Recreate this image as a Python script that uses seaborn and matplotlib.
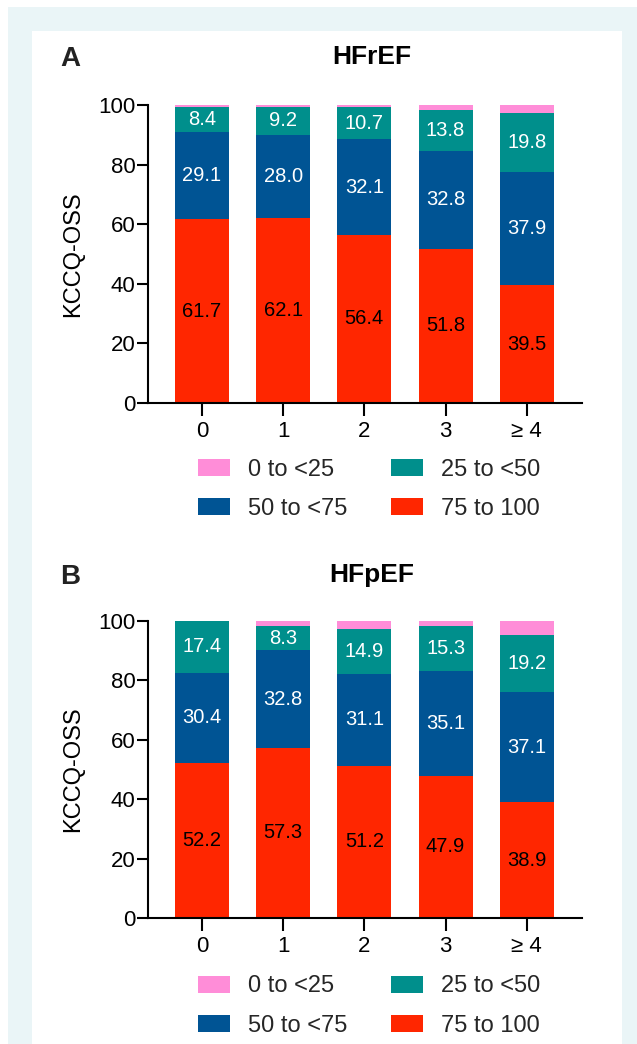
import numpy as np
import pandas as pd
import matplotlib
matplotlib.use("Agg")
import matplotlib.pyplot as plt
from matplotlib.patches import Rectangle, Patch
import seaborn as sns

categories = ["0", "1", "2", "3", "≥ 4"]
series_names = ["0 to <25", "25 to <50", "50 to <75", "75 to 100"]

# HFrEF
hfref_75_100 = [61.7, 62.1, 56.4, 51.8, 39.5]
hfref_50_75 = [29.1, 28.0, 32.1, 32.8, 37.9]
hfref_25_50 = [8.4, 9.2, 10.7, 13.8, 19.8]
hfref_0_25 = [0.8, 0.7, 0.8, 1.6, 2.8]

# HFpEF
hfpef_75_100 = [52.2, 57.3, 51.2, 47.9, 38.9]
hfpef_50_75 = [30.4, 32.8, 31.1, 35.1, 37.1]
hfpef_25_50 = [17.4, 8.3, 14.9, 15.3, 19.2]
hfpef_0_25 = [0.0, 1.6, 2.8, 1.7, 4.8]

yticks = [0, 20, 40, 60, 80, 100]

colors = {"0 to <25": "#FF8DD8", "25 to <50": "#008F8C",
          "50 to <75": "#005494", "75 to 100": "#FF2600"}
text_colors = {"25 to <50": "white", "50 to <75": "white", "75 to 100": "black"}

sns.set_theme(style="ticks")
plt.rcParams["font.family"] = ["Liberation Sans", "DejaVu Sans"]

W, H = 637, 1044
fig = plt.figure(figsize=(W / 100, H / 100), dpi=100)
fig.patch.set_facecolor("white")
fig.patches.append(Rectangle((8 / W, 0), 1 - 8 / W, 1 - 7 / H, transform=fig.transFigure,
                             facecolor="#EAF5F7", edgecolor="none", zorder=-10))
fig.patches.append(Rectangle((32 / W, 0), (622 - 32) / W, 1 - 31 / H, transform=fig.transFigure,
                             facecolor="white", edgecolor="none", zorder=-9))


def draw_panel(ax, s75, s50, s25, s0):
    df = pd.DataFrame({"cat": categories, "75 to 100": s75, "50 to <75": s50,
                       "25 to <50": s25, "0 to <25": s0})
    order_bottom_up = ["75 to 100", "50 to <75", "25 to <50", "0 to <25"]
    cum = df[order_bottom_up].cumsum(axis=1)
    # draw from tallest cumulative to shortest so lower segments overlay
    for name in reversed(order_bottom_up):
        sns.barplot(x=df["cat"], y=cum[name], order=categories, color=colors[name],
                    saturation=1, width=0.665, linewidth=0, ax=ax, errorbar=None)
    # segment labels
    for i, cat in enumerate(categories):
        base = 0.0
        for name in order_bottom_up:
            v = df.loc[i, name]
            if name in text_colors:
                ax.text(i, base + v / 2, f"{v:.1f}", ha="center", va="center",
                        fontsize=14.5, color=text_colors[name])
            base += v
    ax.set_xlim(-0.664, 4.68)
    ax.set_ylim(0, 100)
    ax.set_yticks(yticks)
    ax.set_xlabel("")
    ax.set_ylabel("KCCQ-OSS", fontsize=17, color="black")
    ax.yaxis.set_label_coords(-0.148, 0.5)
    sns.despine(ax=ax)
    for sp in ("left", "bottom"):
        ax.spines[sp].set_linewidth(1.5)
        ax.spines[sp].set_color("black")
    ax.tick_params(axis="y", length=8, width=1.5, pad=1, labelsize=16, colors="black")
    ax.tick_params(axis="x", length=9, width=1.5, pad=4, labelsize=16, colors="black")
    ax.set_facecolor("none")


axA = fig.add_axes([148 / W, 1 - 403 / H, 434 / W, 298 / H])
draw_panel(axA, hfref_75_100, hfref_50_75, hfref_25_50, hfref_0_25)
axB = fig.add_axes([148 / W, 1 - 918 / H, 434 / W, 297 / H])
draw_panel(axB, hfpef_75_100, hfpef_50_75, hfpef_25_50, hfpef_0_25)

# column-wise fill so rows read: pink, teal / blue, red
legend_order = ["0 to <25", "50 to <75", "25 to <50", "75 to 100"]
for yc in (489, 1006):
    handles = [Patch(facecolor=colors[n], edgecolor="none") for n in legend_order]
    fig.legend(handles, legend_order, loc="center", bbox_to_anchor=(369 / W, 1 - yc / H),
               ncol=2, frameon=False, fontsize=17, handlelength=1.36, handleheight=0.76,
               handletextpad=0.76, columnspacing=1.86, labelspacing=0.72,
               borderpad=0, borderaxespad=0)

fig.text(70 / W, 1 - 59 / H, "A", fontsize=20, fontweight="bold", color="#222222",
         ha="center", va="center")
fig.text(70 / W, 1 - 577 / H, "B", fontsize=20, fontweight="bold", color="#222222",
         ha="center", va="center")
fig.text(372 / W, 1 - 57 / H, "HFrEF", fontsize=19, fontweight="bold", color="black",
         ha="center", va="center")
fig.text(372 / W, 1 - 575 / H, "HFpEF", fontsize=19, fontweight="bold", color="black",
         ha="center", va="center")

fig.savefig("out.png", dpi=100, facecolor=fig.get_facecolor())
